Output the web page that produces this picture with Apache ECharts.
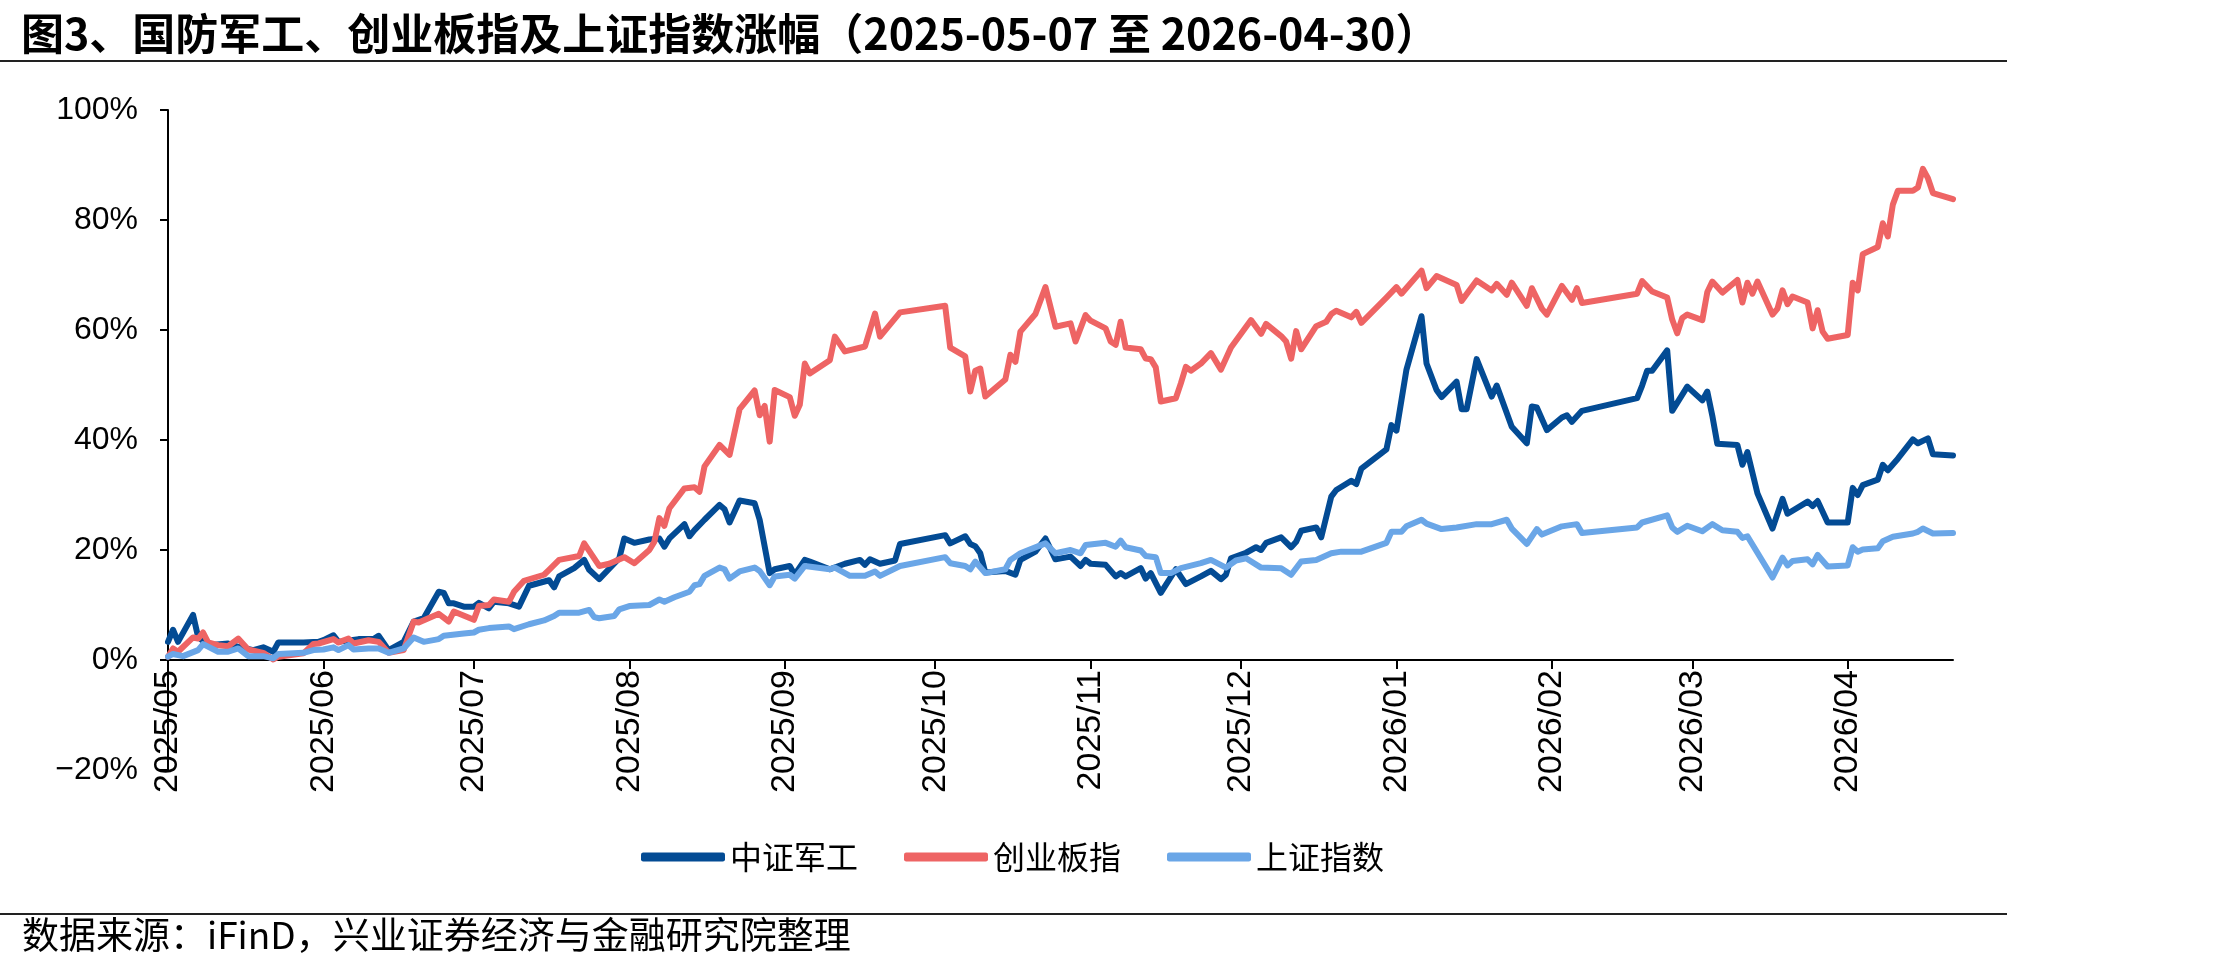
<!DOCTYPE html>
<html>
<head>
<meta charset="utf-8">
<title>国防军工、创业板指及上证指数涨幅</title>
<script src="https://cdn.jsdelivr.net/npm/echarts@6/dist/echarts.min.js"></script>
<style>
  html, body { margin: 0; padding: 0; background: #fff; }
  #chart { width: 2221px; height: 975px; }
</style>
</head>
<body>
<div id="chart"></div>
<script>
// 数据：涨幅（%），日期为交易日
const seriesNames = ['中证军工', '创业板指', '上证指数']
const monthTicks = ['2025-05-07', '2025-06-07', '2025-07-07', '2025-08-07', '2025-09-07', '2025-10-07',
  '2025-11-07', '2025-12-07', '2026-01-07', '2026-02-07', '2026-03-07', '2026-04-07']
const yTicks = [-20, 0, 20, 40, 60, 80, 100]

const jgDates = [
  '2025-05-07', '2025-05-08', '2025-05-09', '2025-05-12', '2025-05-13', '2025-05-15', '2025-05-19', '2025-05-21', '2025-05-24', '2025-05-26', '2025-05-28', '2025-05-29',
  '2025-06-03', '2025-06-06', '2025-06-07', '2025-06-09', '2025-06-10', '2025-06-14', '2025-06-17', '2025-06-18', '2025-06-20', '2025-06-23', '2025-06-25', '2025-06-27', '2025-06-30',
  '2025-07-01', '2025-07-02', '2025-07-03', '2025-07-05', '2025-07-07', '2025-07-08', '2025-07-10', '2025-07-11', '2025-07-14', '2025-07-16', '2025-07-18', '2025-07-22', '2025-07-23', '2025-07-24', '2025-07-27', '2025-07-29', '2025-07-30',
  '2025-08-01', '2025-08-05', '2025-08-06', '2025-08-08', '2025-08-11', '2025-08-13', '2025-08-14', '2025-08-15', '2025-08-18', '2025-08-19', '2025-08-20', '2025-08-22', '2025-08-25', '2025-08-26', '2025-08-27', '2025-08-29',
  '2025-09-01', '2025-09-02', '2025-09-04', '2025-09-05', '2025-09-08', '2025-09-09', '2025-09-11', '2025-09-12', '2025-09-16', '2025-09-19', '2025-09-22', '2025-09-23', '2025-09-24', '2025-09-26', '2025-09-29', '2025-09-30',
  '2025-10-09', '2025-10-10', '2025-10-13', '2025-10-14', '2025-10-15', '2025-10-16', '2025-10-17', '2025-10-21', '2025-10-23', '2025-10-24', '2025-10-27', '2025-10-29', '2025-10-31',
  '2025-11-03', '2025-11-05', '2025-11-06', '2025-11-07', '2025-11-10', '2025-11-12', '2025-11-13', '2025-11-14', '2025-11-17', '2025-11-18', '2025-11-19', '2025-11-21', '2025-11-24', '2025-11-26', '2025-11-29',
  '2025-12-01', '2025-12-03', '2025-12-04', '2025-12-05', '2025-12-08', '2025-12-10', '2025-12-11', '2025-12-12', '2025-12-15', '2025-12-17', '2025-12-18', '2025-12-19', '2025-12-22', '2025-12-23', '2025-12-25', '2025-12-26', '2025-12-29', '2025-12-30', '2025-12-31',
  '2026-01-05', '2026-01-06', '2026-01-07', '2026-01-09', '2026-01-12', '2026-01-13', '2026-01-15', '2026-01-16', '2026-01-19', '2026-01-20', '2026-01-21', '2026-01-23', '2026-01-26', '2026-01-27', '2026-01-30',
  '2026-02-02', '2026-02-03', '2026-02-04', '2026-02-06', '2026-02-09', '2026-02-10', '2026-02-11', '2026-02-13', '2026-02-24', '2026-02-25', '2026-02-26', '2026-02-27',
  '2026-03-02', '2026-03-03', '2026-03-06', '2026-03-09', '2026-03-10', '2026-03-11', '2026-03-12', '2026-03-16', '2026-03-17', '2026-03-18', '2026-03-20', '2026-03-23', '2026-03-25', '2026-03-26', '2026-03-30', '2026-03-31',
  '2026-04-01', '2026-04-03', '2026-04-07', '2026-04-08', '2026-04-09', '2026-04-10', '2026-04-13', '2026-04-14', '2026-04-15', '2026-04-17', '2026-04-20', '2026-04-21', '2026-04-23', '2026-04-24', '2026-04-28'
]
const jgValues = [
  3.3, 5.5, 3.3, 8.2, 4.2, 2.7, 3.0, 2.4, 1.8, 2.3, 1.5, 3.2,
  3.2, 3.3, 3.6, 4.5, 3.3, 3.8, 3.8, 4.4, 1.8, 3.3, 7.0, 7.6, 12.4,
  12.2, 10.3, 10.3, 9.7, 9.7, 10.4, 9.4, 10.6, 10.3, 9.7, 13.5, 14.5, 13.2, 15.2, 16.7, 18.2, 16.4,
  14.7, 18.5, 22.1, 21.3, 21.9, 22.1, 20.6, 22.1, 24.7, 22.5, 23.6, 25.5, 28.2, 27.4, 25.0, 29.0,
  28.5, 25.5, 15.8, 16.5, 17.1, 15.5, 18.2, 17.9, 16.5, 17.5, 18.2, 17.3, 18.3, 17.5, 18.1, 21.1,
  22.7, 21.2, 22.5, 21.1, 20.7, 19.4, 15.9, 16.2, 15.5, 18.2, 19.7, 22.1, 18.3,
  18.8, 17.1, 18.2, 17.5, 17.3, 15.2, 15.8, 15.2, 16.7, 14.8, 15.8, 12.2, 16.5, 13.8, 15.2,
  16.2, 14.7, 15.5, 18.5, 19.5, 20.5, 20.0, 21.3, 22.3, 20.5, 21.5, 23.5, 24.1, 22.3, 29.7, 30.9, 32.6, 32.0, 34.8,
  38.3, 42.7, 41.7, 52.8, 62.5, 53.9, 49.1, 47.8, 50.6, 45.6, 45.6, 54.7, 47.9, 49.9, 42.4,
  39.4, 46.1, 45.9, 41.8, 44.1, 44.5, 43.3, 45.3, 47.6, 49.9, 52.6, 52.6,
  56.3, 45.3, 49.7, 47.2, 48.8, 44.4, 39.3, 39.1, 35.5, 37.8, 30.3, 23.9, 29.3, 26.6, 28.8, 28.0,
  28.9, 25.0, 25.0, 31.3, 30.0, 31.8, 32.8, 35.5, 34.5, 36.6, 40.1, 39.4, 40.3, 37.4, 37.2
]

const cybDates = [
  '2025-05-07', '2025-05-08', '2025-05-09', '2025-05-12', '2025-05-13', '2025-05-14', '2025-05-15', '2025-05-17', '2025-05-19', '2025-05-21', '2025-05-23', '2025-05-26', '2025-05-28', '2025-05-29',
  '2025-06-03', '2025-06-05', '2025-06-06', '2025-06-09', '2025-06-10', '2025-06-12', '2025-06-13', '2025-06-16', '2025-06-18', '2025-06-20', '2025-06-23', '2025-06-25', '2025-06-26', '2025-06-30',
  '2025-07-02', '2025-07-03', '2025-07-07', '2025-07-08', '2025-07-10', '2025-07-11', '2025-07-14', '2025-07-15', '2025-07-17', '2025-07-21', '2025-07-22', '2025-07-24', '2025-07-28', '2025-07-29',
  '2025-08-01', '2025-08-03', '2025-08-06', '2025-08-08', '2025-08-11', '2025-08-12', '2025-08-13', '2025-08-14', '2025-08-15', '2025-08-18', '2025-08-20', '2025-08-21', '2025-08-22', '2025-08-25', '2025-08-27', '2025-08-29',
  '2025-09-01', '2025-09-02', '2025-09-03', '2025-09-04', '2025-09-05', '2025-09-08', '2025-09-09', '2025-09-10', '2025-09-11', '2025-09-12', '2025-09-16', '2025-09-17', '2025-09-19', '2025-09-23', '2025-09-25', '2025-09-26', '2025-09-30',
  '2025-10-09', '2025-10-10', '2025-10-13', '2025-10-14', '2025-10-15', '2025-10-16', '2025-10-17', '2025-10-21', '2025-10-22', '2025-10-23', '2025-10-24', '2025-10-27', '2025-10-29', '2025-10-31',
  '2025-11-03', '2025-11-04', '2025-11-06', '2025-11-07', '2025-11-10', '2025-11-11', '2025-11-12', '2025-11-13', '2025-11-14', '2025-11-17', '2025-11-18', '2025-11-19', '2025-11-20', '2025-11-21', '2025-11-24', '2025-11-25', '2025-11-26', '2025-11-27', '2025-11-29',
  '2025-12-01', '2025-12-03', '2025-12-05', '2025-12-09', '2025-12-11', '2025-12-12', '2025-12-15', '2025-12-16', '2025-12-17', '2025-12-18', '2025-12-19', '2025-12-22', '2025-12-24', '2025-12-25', '2025-12-26', '2025-12-29', '2025-12-30', '2025-12-31',
  '2026-01-05', '2026-01-07', '2026-01-08', '2026-01-12', '2026-01-13', '2026-01-15', '2026-01-19', '2026-01-20', '2026-01-23', '2026-01-26', '2026-01-27', '2026-01-29', '2026-01-30',
  '2026-02-02', '2026-02-03', '2026-02-05', '2026-02-06', '2026-02-09', '2026-02-11', '2026-02-12', '2026-02-13', '2026-02-24', '2026-02-25', '2026-02-27',
  '2026-03-02', '2026-03-03', '2026-03-04', '2026-03-05', '2026-03-06', '2026-03-09', '2026-03-10', '2026-03-11', '2026-03-13', '2026-03-16', '2026-03-17', '2026-03-18', '2026-03-19', '2026-03-20', '2026-03-23', '2026-03-24', '2026-03-25', '2026-03-26', '2026-03-27', '2026-03-30', '2026-03-31',
  '2026-04-01', '2026-04-02', '2026-04-03', '2026-04-07', '2026-04-08', '2026-04-09', '2026-04-10', '2026-04-13', '2026-04-14', '2026-04-15', '2026-04-16', '2026-04-17', '2026-04-20', '2026-04-21', '2026-04-22', '2026-04-23', '2026-04-24', '2026-04-28'
]
const cybValues = [
  0.6, 2.1, 1.5, 4.1, 3.9, 5.0, 3.2, 2.7, 2.5, 3.9, 1.9, 1.3, 0.1, 0.6,
  1.2, 2.9, 3.0, 3.8, 3.2, 3.9, 3.0, 3.6, 3.3, 1.3, 1.8, 7.0, 6.8, 8.4,
  7.0, 8.8, 7.3, 9.8, 10.0, 11.0, 10.6, 12.4, 14.4, 15.5, 16.4, 18.2, 18.9, 21.2,
  17.1, 17.5, 18.7, 17.6, 20.0, 21.5, 25.8, 24.4, 27.6, 31.2, 31.4, 30.6, 35.2, 39.1, 37.3, 45.6,
  49.0, 44.5, 46.2, 39.7, 49.1, 47.8, 44.4, 46.4, 53.9, 52.1, 54.5, 58.8, 56.1, 57.0, 63.0, 58.8, 63.2,
  64.4, 56.8, 55.2, 48.8, 52.6, 53.0, 47.9, 51.0, 55.5, 54.2, 59.7, 62.9, 67.8, 60.6,
  61.2, 57.9, 62.7, 61.7, 60.3, 57.9, 57.3, 61.5, 56.8, 56.5, 54.8, 54.7, 53.2, 47.0, 47.6, 50.3, 53.3, 52.6, 53.9,
  55.8, 52.8, 56.8, 61.8, 59.3, 61.1, 58.9, 57.9, 54.8, 59.8, 56.5, 60.7, 61.5, 62.9, 63.5, 62.3, 63.3, 61.3,
  65.9, 67.8, 66.6, 70.8, 67.6, 69.8, 68.2, 65.3, 69.0, 67.2, 68.4, 66.4, 68.6,
  64.4, 67.6, 63.9, 62.8, 68.0, 65.5, 67.6, 64.9, 66.6, 68.9, 67.0,
  65.9, 61.9, 59.4, 62.2, 62.8, 61.8, 66.9, 68.8, 66.8, 69.1, 65.0, 68.6, 66.6, 68.8, 62.8, 63.9, 67.2, 64.7, 66.1, 65.0, 60.3,
  63.6, 59.7, 58.4, 59.1, 68.6, 67.2, 73.8, 75.1, 79.4, 77.0, 82.8, 85.3, 85.3, 85.9, 89.3, 87.6, 84.9, 83.8
]

const szDates = [
  '2025-05-07', '2025-05-08', '2025-05-10', '2025-05-13', '2025-05-14', '2025-05-17', '2025-05-19', '2025-05-21', '2025-05-23', '2025-05-26', '2025-05-28', '2025-05-29',
  '2025-06-03', '2025-06-05', '2025-06-07', '2025-06-09', '2025-06-10', '2025-06-12', '2025-06-13', '2025-06-16', '2025-06-18', '2025-06-20', '2025-06-23', '2025-06-25', '2025-06-27', '2025-06-30',
  '2025-07-01', '2025-07-05', '2025-07-07', '2025-07-08', '2025-07-10', '2025-07-14', '2025-07-15', '2025-07-18', '2025-07-21', '2025-07-23', '2025-07-24', '2025-07-28', '2025-07-30', '2025-07-31',
  '2025-08-01', '2025-08-04', '2025-08-05', '2025-08-07', '2025-08-11', '2025-08-13', '2025-08-14', '2025-08-16', '2025-08-19', '2025-08-20', '2025-08-21', '2025-08-22', '2025-08-25', '2025-08-26', '2025-08-27', '2025-08-29',
  '2025-09-01', '2025-09-02', '2025-09-04', '2025-09-05', '2025-09-08', '2025-09-09', '2025-09-11', '2025-09-16', '2025-09-17', '2025-09-19', '2025-09-20', '2025-09-23', '2025-09-25', '2025-09-26', '2025-09-30',
  '2025-10-09', '2025-10-10', '2025-10-13', '2025-10-14', '2025-10-15', '2025-10-17', '2025-10-21', '2025-10-22', '2025-10-24', '2025-10-29', '2025-10-31',
  '2025-11-03', '2025-11-05', '2025-11-06', '2025-11-10', '2025-11-12', '2025-11-13', '2025-11-14', '2025-11-17', '2025-11-18', '2025-11-20', '2025-11-21', '2025-11-23', '2025-11-25', '2025-11-29',
  '2025-12-01', '2025-12-04', '2025-12-06', '2025-12-08', '2025-12-11', '2025-12-15', '2025-12-17', '2025-12-19', '2025-12-22', '2025-12-25', '2025-12-27', '2025-12-31',
  '2026-01-05', '2026-01-06', '2026-01-08', '2026-01-09', '2026-01-12', '2026-01-13', '2026-01-16', '2026-01-19', '2026-01-23', '2026-01-26', '2026-01-29', '2026-01-30',
  '2026-02-02', '2026-02-04', '2026-02-05', '2026-02-09', '2026-02-12', '2026-02-13', '2026-02-24', '2026-02-25',
  '2026-03-02', '2026-03-03', '2026-03-04', '2026-03-06', '2026-03-09', '2026-03-11', '2026-03-13', '2026-03-16', '2026-03-17', '2026-03-18', '2026-03-23', '2026-03-25', '2026-03-26', '2026-03-27', '2026-03-30', '2026-03-31',
  '2026-04-01', '2026-04-03', '2026-04-07', '2026-04-08', '2026-04-09', '2026-04-10', '2026-04-13', '2026-04-14', '2026-04-16', '2026-04-20', '2026-04-21', '2026-04-22', '2026-04-24', '2026-04-28'
]
const szValues = [
  0.6, 1.1, 0.7, 1.8, 2.9, 1.5, 1.5, 2.1, 0.7, 0.7, 0.3, 1.1,
  1.3, 1.8, 1.9, 2.3, 1.8, 2.7, 1.9, 2.1, 2.1, 1.3, 2.1, 4.1, 3.3, 3.8,
  4.4, 4.8, 5.0, 5.5, 5.8, 6.1, 5.6, 6.5, 7.2, 8.0, 8.6, 8.6, 9.1, 7.8,
  7.6, 8.0, 9.2, 9.8, 10.0, 11.0, 10.6, 11.4, 12.4, 13.6, 13.8, 15.3, 16.8, 16.5, 14.8, 16.1,
  16.8, 16.2, 13.6, 15.2, 15.5, 14.8, 17.1, 16.5, 16.8, 15.8, 15.3, 15.3, 16.1, 15.3, 17.1,
  18.7, 17.6, 17.1, 16.5, 17.9, 15.8, 16.5, 18.2, 19.4, 21.2, 19.4,
  20.0, 19.4, 20.9, 21.3, 20.6, 21.7, 20.5, 19.9, 18.9, 18.7, 15.8, 15.8, 16.7, 17.6,
  18.2, 16.8, 18.1, 18.5, 16.8, 16.7, 15.5, 17.9, 18.2, 19.4, 19.7, 19.7,
  21.3, 23.3, 23.3, 24.3, 25.5, 24.8, 23.8, 24.1, 24.7, 24.7, 25.5, 23.9,
  21.1, 23.8, 22.8, 24.3, 24.7, 23.1, 24.1, 25.0,
  26.3, 24.1, 23.3, 24.4, 23.4, 24.7, 23.6, 23.3, 22.2, 22.5, 15.0, 18.6, 17.2, 18.0, 18.3, 17.4,
  19.1, 17.0, 17.2, 20.5, 19.7, 20.1, 20.3, 21.6, 22.4, 23.0, 23.3, 23.9, 23.0, 23.1
]

const startDate = '2025-05-07'
const endDate = '2026-04-28'
const colors = ['#034B94', '#EE6464', '#6AA6E7']

const TEXT_FONT = '"Liberation Sans", "Noto Sans CJK SC", sans-serif'
const CJK_FONT = '"Noto Sans CJK SC", "Liberation Sans", sans-serif'

const chart = echarts.init(document.getElementById('chart'))

// 日期字符串转为时间戳（本地时间）
const toTime = (d) => echarts.number.parseDate(d).getTime()
const toPairs = (dates, values) => dates.map((d, i) => [toTime(d), values[i]])
const tickTimes = monthTicks.map(toTime)

const makeLine = (name, data, color) => ({
  name: name,
  type: 'line',
  data: data,
  showSymbol: false,
  symbol: 'none',
  lineStyle: { color: color, width: 6, cap: 'round', join: 'round' },
  itemStyle: { color: color },
  emphasis: { disabled: true }
})

const option = {
  animation: false,
  backgroundColor: '#fff',
  title: {
    text: '图3、国防军工、创业板指及上证指数涨幅（2025-05-07 至 2026-04-30）',
    left: 16,
    top: 7,
    textStyle: { fontSize: 43, fontWeight: 'bold', color: '#000', fontFamily: CJK_FONT }
  },
  graphic: [
    { type: 'line', shape: { x1: 0, y1: 61, x2: 2007, y2: 61 }, style: { stroke: '#222', lineWidth: 2 } },
    { type: 'line', shape: { x1: 0, y1: 914, x2: 2007, y2: 914 }, style: { stroke: '#222', lineWidth: 2 } },
    {
      type: 'text', left: 22, top: 916,
      style: { text: '数据来源：iFinD，兴业证券经济与金融研究院整理', font: '37px ' + CJK_FONT, fill: '#000' }
    }
  ],
  legend: {
    left: 636,
    top: 836,
    itemWidth: 84,
    itemHeight: 9,
    itemGap: 46,
    icon: 'roundRect',
    data: seriesNames,
    textStyle: { fontSize: 32, color: '#000', fontFamily: CJK_FONT }
  },
  grid: { left: 168, right: 268, top: 110, bottom: 205, containLabel: false },
  xAxis: {
    type: 'value',
    min: toTime(startDate),
    max: toTime(endDate),
    splitLine: { show: false },
    axisLine: { onZero: true, lineStyle: { color: '#000', width: 2 } },
    axisTick: { show: true, customValues: tickTimes, length: 9, lineStyle: { color: '#000', width: 2 } },
    axisLabel: {
      customValues: tickTimes,
      rotate: 90,
      // 标签紧贴 0% 轴线（网格底部在 -20%）
      margin: -100,
      fontSize: 34,
      color: '#000',
      fontFamily: TEXT_FONT,
      formatter: (val) => {
        const d = new Date(val)
        return d.getFullYear() + '/' + String(d.getMonth() + 1).padStart(2, '0')
      }
    }
  },
  yAxis: {
    type: 'value',
    min: yTicks[0],
    max: yTicks[yTicks.length - 1],
    interval: 20,
    splitLine: { show: false },
    axisLine: { show: true, lineStyle: { color: '#000', width: 2 } },
    axisTick: { show: true, length: 8, lineStyle: { color: '#000', width: 2 } },
    axisLabel: {
      margin: 30,
      fontSize: 32,
      color: '#000',
      fontFamily: TEXT_FONT,
      formatter: (v) => (v < 0 ? '\u2212' + (-v) : v) + '%'
    }
  },
  series: [
    makeLine(seriesNames[0], toPairs(jgDates, jgValues), colors[0]),
    makeLine(seriesNames[1], toPairs(cybDates, cybValues), colors[1]),
    makeLine(seriesNames[2], toPairs(szDates, szValues), colors[2])
  ]
}

chart.setOption(option)
</script>
</body>
</html>
